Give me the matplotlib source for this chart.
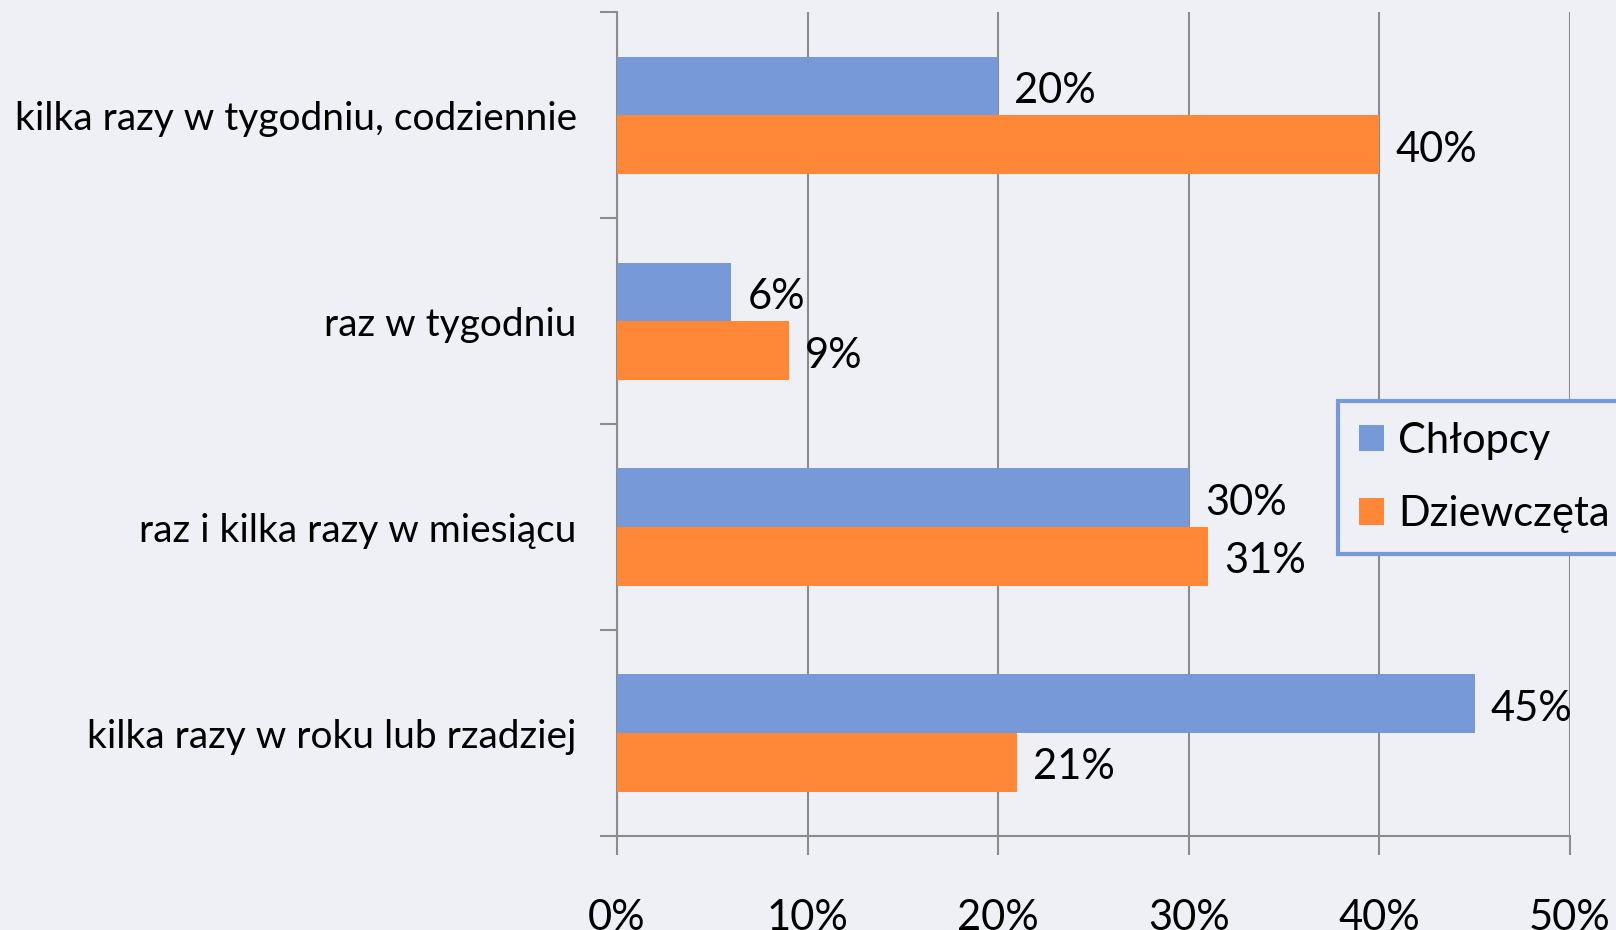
import matplotlib
matplotlib.use("Agg")
import matplotlib.pyplot as plt
import numpy as np

categories = ["kilka razy w tygodniu, codziennie", "raz w tygodniu",
              "raz i kilka razy w miesiącu", "kilka razy w roku lub rzadziej"]
chlopcy = [20, 6, 30, 45]
dziewczeta = [40, 9, 31, 21]
series_names = ["Chłopcy", "Dziewczęta"]
xticks = [0, 10, 20, 30, 40, 50]
xtick_labels = ["0%", "10%", "20%", "30%", "40%", "50%"]

BG = "#EFF0F6"
BLUE = "#7799D8"
ORANGE = "#FF8838"
GRID = "#8C8C8C"

plt.rcParams['font.family'] = ['Lato', 'DejaVu Sans']

fig = plt.figure(figsize=(16.16, 9.30), dpi=100, facecolor=BG)
ax = fig.add_axes([617/1616, 1-836/930, (1570-617)/1616, (836-12.4)/930])
ax.set_facecolor(BG)

n = len(categories)
y = np.arange(n)
h = 0.285
b1 = ax.barh(y - h/2, chlopcy, height=h, color=BLUE, label=series_names[0], zorder=3)
b2 = ax.barh(y + h/2, dziewczeta, height=h, color=ORANGE, label=series_names[1], zorder=3)

for bars, vals in ((b1, chlopcy), (b2, dziewczeta)):
    for yy, v in zip(bars, vals):
        ax.annotate(f"{v}%", (v, yy.get_y() + yy.get_height()/2), xytext=(16, -5),
                    textcoords="offset pixels",
                    ha="left", va="center", fontsize=30, color="black")

ax.set_ylim(n - 0.5, -0.5)
ax.set_xlim(0, 50)
ax.set_yticks(np.arange(n + 1) - 0.5)
ax.set_yticklabels([])
ax.set_yticks(y, minor=True)
ax.set_yticklabels(categories, minor=True, fontsize=28)
ax.tick_params(axis='y', which='minor', length=0, pad=29)
ax.tick_params(axis='y', which='major', length=12, width=1.5, color=GRID, direction='out')
ax.set_xticks(xticks)
ax.set_xticklabels(xtick_labels, fontsize=30)
ax.tick_params(axis='x', length=14, width=1.5, color=GRID, direction='out', pad=31)

ax.grid(axis='x', color=GRID, linewidth=1.5, zorder=0)
for s in ("top", "right"):
    ax.spines[s].set_visible(False)
for s in ("left", "bottom"):
    ax.spines[s].set_color(GRID)
    ax.spines[s].set_linewidth(1.5)

leg = fig.legend(loc="upper left", bbox_to_anchor=(1338/1616, 1-401/930),
                 fontsize=30, frameon=True, fancybox=False, borderaxespad=0,
                 handlelength=0.6, handleheight=0.6, handletextpad=0.35,
                 labelspacing=0.85, borderpad=0.5)
fr = leg.get_frame()
fr.set_edgecolor(BLUE)
fr.set_linewidth(3)
fr.set_facecolor(BG)
fr.set_alpha(1)

fig.savefig("out.png", dpi=100, facecolor=BG)
